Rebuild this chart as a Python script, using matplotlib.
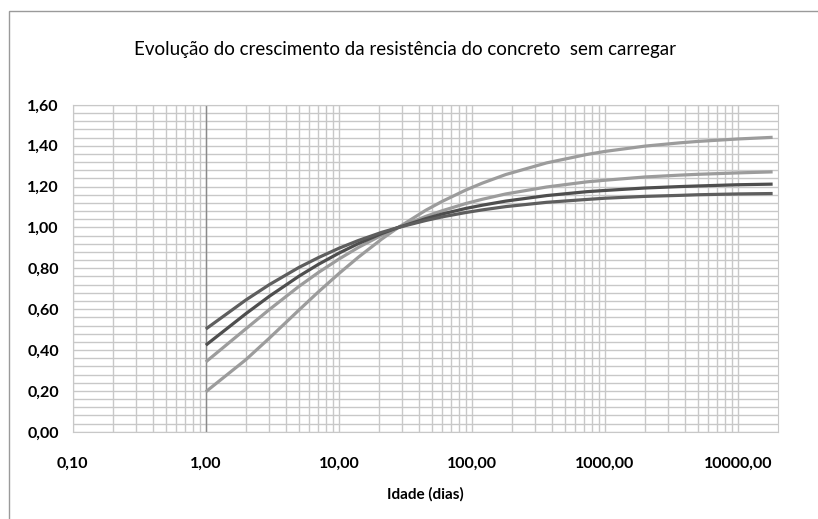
import numpy as np
import matplotlib
matplotlib.use("Agg")
import matplotlib.pyplot as plt
from matplotlib.ticker import FixedLocator, FuncFormatter, MultipleLocator, NullFormatter

plt.rcParams['font.family'] = ['Lato', 'DejaVu Sans']

# idade (dias)
idade = [1, 2, 3, 5, 7, 10, 14, 21, 28, 45, 60, 90, 120, 180, 365,
         730, 1000, 2000, 3650, 5000, 10000, 18250]

# resistencia relativa (fc(t)/fc28)
curva_a = [0.503, 0.645, 0.720, 0.804, 0.852, 0.898, 0.936, 0.976, 1.000, 1.034, 1.052,
           1.073, 1.086, 1.102, 1.123, 1.137, 1.143, 1.152, 1.157, 1.160, 1.164, 1.166]
curva_b = [0.424, 0.578, 0.663, 0.761, 0.819, 0.874, 0.921, 0.970, 1.000, 1.043, 1.066,
           1.093, 1.109, 1.129, 1.156, 1.175, 1.181, 1.193, 1.200, 1.203, 1.209, 1.212]
curva_c = [0.342, 0.504, 0.598, 0.711, 0.779, 0.845, 0.902, 0.962, 1.000, 1.054, 1.082,
           1.117, 1.138, 1.164, 1.198, 1.223, 1.231, 1.247, 1.256, 1.260, 1.267, 1.272]
curva_d = [0.196, 0.353, 0.458, 0.595, 0.684, 0.774, 0.854, 0.943, 1.000, 1.084, 1.128,
           1.183, 1.217, 1.259, 1.316, 1.357, 1.372, 1.398, 1.414, 1.421, 1.433, 1.441]

cores = ['#5e5e5e', '#4e4e4e', '#9c9c9c', '#9c9c9c']

fig = plt.figure(figsize=(8.18, 5.19), dpi=100)
ax = fig.add_axes([0.089, 0.168, 0.862, 0.630])

# moldura do grafico
fig.patches.append(plt.Rectangle((0.011, -0.1), 1.2, 1.079, transform=fig.transFigure,
                                 fill=False, edgecolor='#9a9a9a', linewidth=1.0))

for serie, cor in zip([curva_d, curva_c, curva_b, curva_a], cores[::-1]):
    ax.plot(idade, serie, color=cor, linewidth=2.3, solid_capstyle='butt', zorder=3)

ax.set_xscale('log')
ax.set_xlim(0.1, 20000)
ax.set_ylim(0, 1.6)

ax.xaxis.set_major_locator(FixedLocator([0.1, 1, 10, 100, 1000, 10000]))
minors = [m * 10.0**e for e in range(-1, 5) for m in range(2, 10) if m * 10.0**e < 20000]
ax.xaxis.set_minor_locator(FixedLocator(minors))
ax.xaxis.set_minor_formatter(NullFormatter())
ax.xaxis.set_major_formatter(FuncFormatter(lambda v, p: ('%.2f' % v).replace('.', ',')))

ax.yaxis.set_major_locator(MultipleLocator(0.2))
ax.yaxis.set_minor_locator(MultipleLocator(0.04))
ax.yaxis.set_major_formatter(FuncFormatter(lambda v, p: ('%.2f' % v).replace('.', ',')))

ax.grid(which='both', color='#c8c8c8', linewidth=1.0, zorder=0)
ax.axvline(1, color='#8a8a8a', linewidth=1.0, zorder=1)
ax.set_axisbelow(True)

for s in ax.spines.values():
    s.set_color('#c8c8c8')

ax.tick_params(which='both', length=0)
ax.tick_params(axis='x', pad=18)
ax.tick_params(axis='y', pad=10)
for lab in ax.get_xticklabels() + ax.get_yticklabels():
    lab.set_fontsize(11.5)
    lab.set_fontweight('bold')

ax.set_xlabel('Idade (dias)', fontsize=11, fontweight='bold', labelpad=12)
fig.text(0.495, 0.904, 'Evolução do crescimento da resistência do concreto  sem carregar',
         ha='center', va='center', fontsize=13.5)

fig.savefig('out.png', dpi=100)
